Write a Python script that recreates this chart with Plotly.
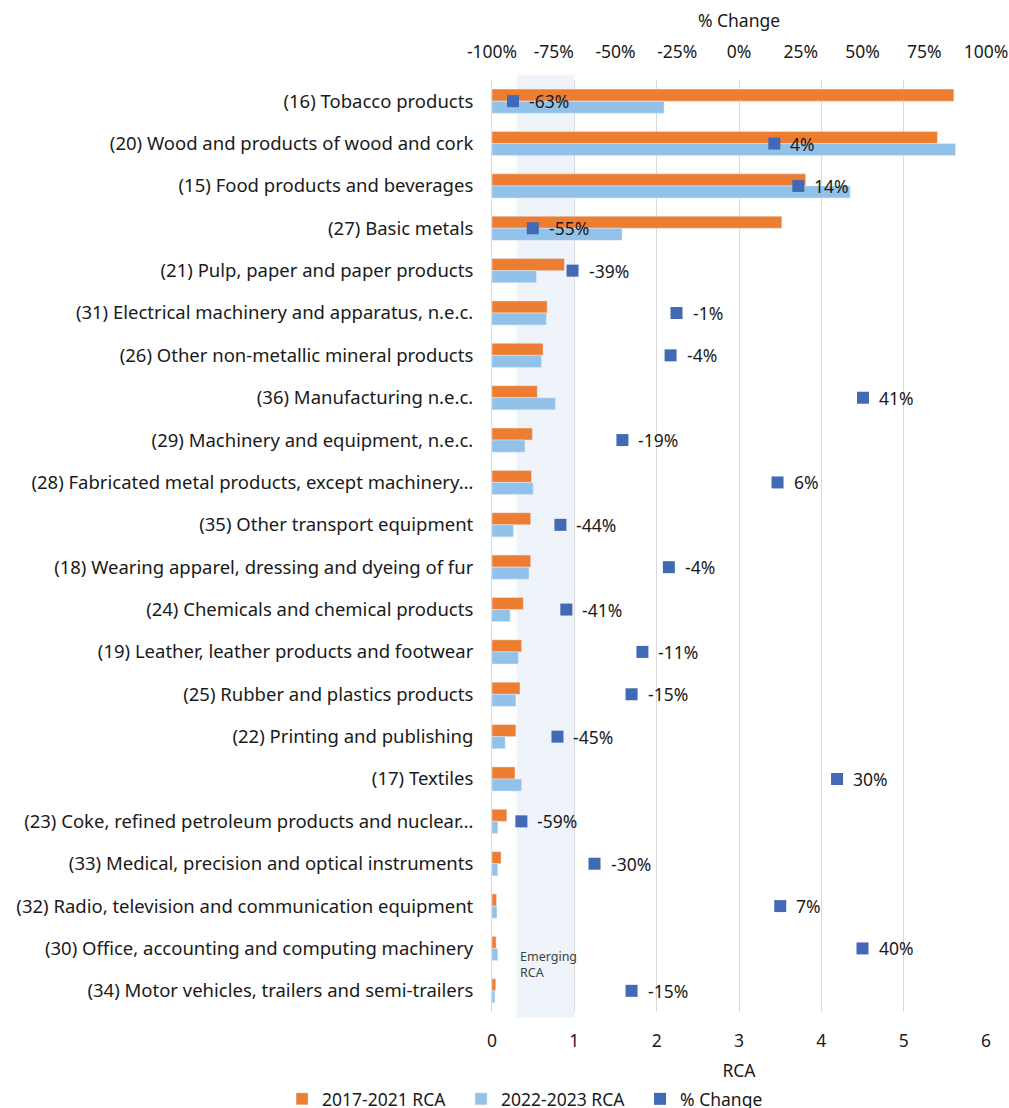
import plotly.graph_objects as go

categories = [
    "(16) Tobacco products",
    "(20) Wood and products of wood and cork",
    "(15) Food products and beverages",
    "(27) Basic metals",
    "(21) Pulp, paper and paper products",
    "(31) Electrical machinery and apparatus, n.e.c.",
    "(26) Other non-metallic mineral products",
    "(36) Manufacturing n.e.c.",
    "(29) Machinery and equipment, n.e.c.",
    "(28) Fabricated metal products, except machinery…",
    "(35) Other transport equipment",
    "(18) Wearing apparel, dressing and dyeing of fur",
    "(24) Chemicals and chemical products",
    "(19) Leather, leather products and footwear",
    "(25) Rubber and plastics products",
    "(22) Printing and publishing",
    "(17) Textiles",
    "(23) Coke, refined petroleum products and nuclear…",
    "(33) Medical, precision and optical instruments",
    "(32) Radio, television and communication equipment",
    "(30) Office, accounting and computing machinery",
    "(34) Motor vehicles, trailers and semi-trailers",
]

rca_2017_2021 = [5.61, 5.41, 3.81, 3.52, 0.88, 0.67, 0.62, 0.55, 0.49, 0.48, 0.47,
                 0.47, 0.38, 0.36, 0.34, 0.29, 0.28, 0.18, 0.11, 0.055, 0.05, 0.045]
rca_2022_2023 = [2.09, 5.63, 4.35, 1.58, 0.54, 0.66, 0.60, 0.77, 0.40, 0.50, 0.26,
                 0.45, 0.22, 0.32, 0.29, 0.16, 0.36, 0.07, 0.07, 0.06, 0.07, 0.035]
# % change as printed in the data labels
pct_change_label = [-63, 4, 14, -55, -39, -1, -4, 41, -19, 6, -44,
                    -4, -41, -11, -15, -45, 30, -59, -30, 7, 40, -15]
# % change marker position as read against the top axis
pct_change_pos = [-91.5, 14.3, 24, -83.5, -67.4, -25.3, -27.7, 50.2, -47.2, 15.6, -72.3,
                  -28.4, -69.9, -39.1, -43.5, -73.5, 39.7, -88.1, -58.5, 16.7, 50, -43.5]

emerging_band = [0.3, 1.0]
rca_ticks = [0, 1, 2, 3, 4, 5, 6]
pct_ticks = [-100, -75, -50, -25, 0, 25, 50, 75, 100]
pct_ticktext = ["-100%", "-75%", "-50%", "-25%", "0%", "25%", "50%", "75%", "100%"]

FONT = "Noto Sans"
TXT = "#1a1a1a"
ORANGE = "#ED7D31"
LBLUE = "#92C1E9"
DBLUE = "#4169B5"

fig = go.Figure()
fig.add_trace(go.Bar(
    name="2017-2021 RCA", y=categories, x=rca_2017_2021, orientation="h",
    marker=dict(color=ORANGE), xaxis="x", yaxis="y"))
fig.add_trace(go.Bar(
    name="2022-2023 RCA", y=categories, x=rca_2022_2023, orientation="h",
    marker=dict(color=LBLUE), xaxis="x", yaxis="y"))
fig.add_trace(go.Scatter(
    name="% Change", y=categories, x=pct_change_pos, mode="markers",
    marker=dict(symbol="square", size=12, color=DBLUE),
    xaxis="x2", yaxis="y"))

for cat, pos, lab in zip(categories, pct_change_pos, pct_change_label):
    fig.add_annotation(x=pos, y=cat, xref="x2", yref="y", text=f"{lab}%",
                       showarrow=False, xanchor="left", xshift=14,
                       font=dict(family=FONT, size=17.5, color=TXT))

fig.add_shape(type="rect", xref="x", yref="paper",
              x0=emerging_band[0], x1=emerging_band[1], y0=-0.006, y1=1.005,
              fillcolor="#EEF4FA", line=dict(width=0), layer="below")
fig.add_annotation(x=emerging_band[0], xref="x", y=0.051, yref="paper",
                   text="Emerging<br>RCA", showarrow=False, xanchor="left",
                   yanchor="middle", align="left", xshift=1,
                   font=dict(family=FONT, size=12.5, color="#404040"))

fig.update_layout(
    width=1009, height=1108,
    margin=dict(l=492, r=23, t=80, b=96, autoexpand=False),
    paper_bgcolor="white", plot_bgcolor="rgba(0,0,0,0)",
    barmode="group", bargap=0.43, bargroupgap=0,
    font=dict(family=FONT, size=17.5, color=TXT),
    showlegend=True,
    legend=dict(orientation="h", x=-0.425, xanchor="left", y=-0.0933, yanchor="middle",
                font=dict(family=FONT, size=17.5, color=TXT),
                entrywidth=134, entrywidthmode="pixels",
                traceorder="normal"),
    xaxis=dict(range=[0, 6], tickvals=rca_ticks, showgrid=True, gridcolor="#D9D9D9",
               gridwidth=1, zeroline=False, showline=False, ticks="",
               ticklabelstandoff=16, automargin=False,
               title=dict(text="RCA", font=dict(family=FONT, size=17.5, color=TXT), standoff=14),
               tickfont=dict(family=FONT, size=17.5, color=TXT)),
    xaxis2=dict(range=[-100, 100], tickvals=pct_ticks, ticktext=pct_ticktext,
                overlaying="x", side="top", showgrid=False, zeroline=False,
                showline=False, ticks="", ticklabelstandoff=18, automargin=False,
                title=dict(text="% Change", font=dict(family=FONT, size=17.5, color=TXT), standoff=6),
                tickfont=dict(family=FONT, size=17.5, color=TXT)),
    yaxis=dict(autorange=False, range=[len(categories) - 0.5, -0.5],
               showgrid=False, zeroline=False, showline=True, automargin=False,
               linecolor="#D9D9D9", linewidth=1, ticks="", ticklabelstandoff=14,
               tickfont=dict(family=FONT, size=18.5, color=TXT)),
)

fig.write_html("out.html", config={"displayModeBar": False},
               post_script="document.body.style.margin='0';")
